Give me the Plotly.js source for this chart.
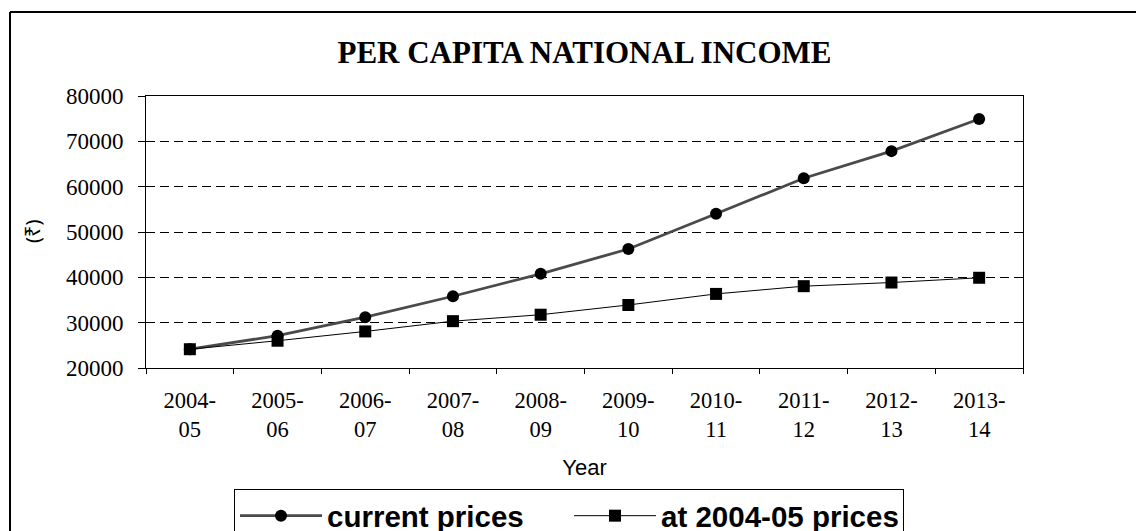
<!DOCTYPE html>
<html>
<head>
<meta charset="utf-8">
<script src="https://cdn.plot.ly/plotly-3.0.1.min.js"></script>
<style>html,body{margin:0;padding:0;background:#fff;overflow:hidden;}#chart{width:1136px;height:600px;}</style>
</head>
<body>
<div id="chart"></div>
<script>
const years = ["2004-<br>05","2005-<br>06","2006-<br>07","2007-<br>08","2008-<br>09","2009-<br>10","2010-<br>11","2011-<br>12","2012-<br>13","2013-<br>14"];
const currentPrices = [24143, 27131, 31206, 35825, 40775, 46249, 54021, 61855, 67839, 74920];
const constantPrices = [24143, 26015, 28067, 30332, 31754, 33901, 36342, 38048, 38856, 39904];
const seriesNames = ["current prices", "at 2004-05 prices"];
const yTitle = "(₹)";
const xTitle = "Year";
const chartTitle = "PER CAPITA NATIONAL INCOME";

const W = 1136, H = 600;
const m = {l: 146, r: 113, t: 96, b: H - 368};
const pw = W - m.l - m.r, ph = H - m.t - m.b;
const px = v => (v - m.l) / pw;
const py = v => (H - m.b - v) / ph;

const traces = [
  {x: years, y: currentPrices, name: seriesNames[0], type: "scatter", mode: "lines+markers",
   line: {color: "#4a4a4a", width: 2.8}, marker: {symbol: "circle", size: 12, color: "#000"}},
  {x: years, y: constantPrices, name: seriesNames[1], type: "scatter", mode: "lines+markers",
   line: {color: "#000", width: 1}, marker: {symbol: "square", size: 12, color: "#000"}}
];

const serif = "Liberation Serif, Times New Roman, serif";
const sans = "Liberation Sans, Arial, sans-serif";

const layout = {
  width: W, height: H, margin: m,
  paper_bgcolor: "#fff", plot_bgcolor: "#fff",
  showlegend: true,
  title: {text: "<b>" + chartTitle + "</b>", font: {family: serif, size: 31, color: "#000"},
          x: 0.5, xanchor: "center", xref: "paper", y: 1 - 52 / H, yanchor: "middle"},
  xaxis: {type: "category", range: [-0.5, 9.5], tickson: "boundaries", ticks: "outside", ticklen: 5, tickcolor: "#000",
          showline: true, linecolor: "#000", linewidth: 1, mirror: true, showgrid: false, zeroline: false,
          tickfont: {family: serif, size: 22.5, color: "#000"},
          ticklabelstandoff: 12,
          title: {text: xTitle, font: {family: sans, size: 22, color: "#000"}, standoff: 18}},
  yaxis: {range: [20000, 80000], dtick: 10000, tickformat: "d", ticks: "outside", ticklen: 7, tickcolor: "#000",
          showline: true, linecolor: "#000", linewidth: 1, mirror: true,
          showgrid: true, gridcolor: "#000", griddash: "9px,5px", gridwidth: 1, zeroline: false,
          tickfont: {family: serif, size: 23, color: "#000"},
          ticklabelstandoff: 10},
  legend: {orientation: "h", x: px(234), xanchor: "left", y: py(489), yanchor: "top",
           bordercolor: "#000", borderwidth: 1, bgcolor: "#fff", itemwidth: 82,
           entrywidth: 237, entrywidthmode: "pixels",
           font: {family: sans, size: 29.5, color: "#000", weight: "bold"}},
  annotations: [
    {text: yTitle, xref: "paper", yref: "paper", x: px(32), y: py(232), xanchor: "center", yanchor: "middle",
     textangle: -90, showarrow: false, font: {family: "Noto Sans, DejaVu Sans, sans-serif", size: 20, color: "#000"}}
  ],
  shapes: [
    {type: "line", xref: "paper", yref: "paper", x0: px(10), x1: px(1136), y0: py(12), y1: py(12),
     line: {color: "#000", width: 2}, layer: "below"},
    {type: "line", xref: "paper", yref: "paper", x0: px(10), x1: px(10), y0: py(12), y1: py(H),
     line: {color: "#000", width: 2}, layer: "below"}
  ]
};

Plotly.newPlot("chart", traces, layout, {displayModeBar: false, staticPlot: true});
</script>
</body>
</html>
